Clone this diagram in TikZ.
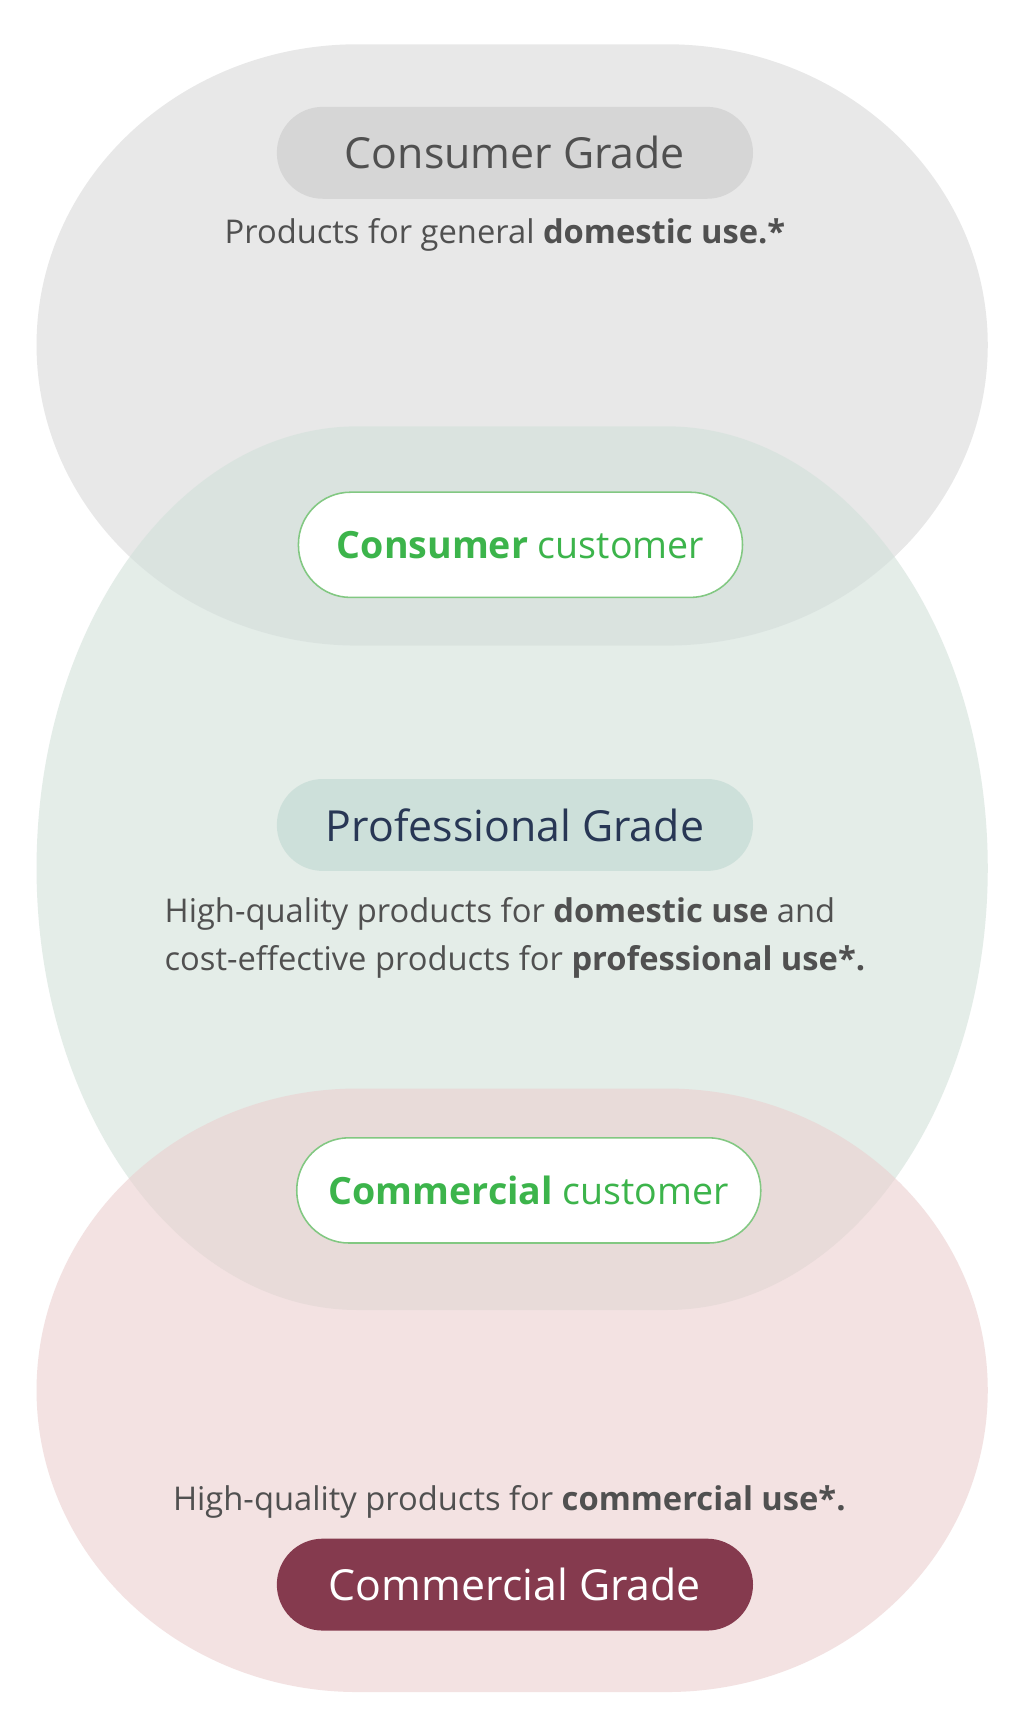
\documentclass[tikz,border=0pt]{standalone}
\usepackage{fontspec}
\setmainfont{Open Sans}
\definecolor{topc}{RGB}{232,232,232}
\definecolor{midc}{RGB}{210,225,218}
\definecolor{botc}{RGB}{235,207,207}
\definecolor{pillgray}{RGB}{214,214,214}
\definecolor{pillgreen}{RGB}{205,224,218}
\definecolor{pillred}{RGB}{133,58,78}
\definecolor{txt}{RGB}{80,80,80}
\definecolor{navy}{RGB}{40,55,85}
\definecolor{grn}{RGB}{60,180,75}
\definecolor{grnline}{RGB}{130,200,130}
\tikzset{
 pill/.style={rounded corners=0.83cm,minimum width=8.6cm,minimum height=1.66cm,font=\fontsize{22}{26}\selectfont},
 custpill/.style={draw=grnline,line width=0.8pt,fill=white,rounded corners=0.94cm,minimum height=1.9cm,text=grn,font=\fontsize{19.3}{23}\selectfont},
 desc/.style={text=txt,font=\fontsize{16.8}{25}\selectfont}
}
\begin{document}
\begin{tikzpicture}
\useasboundingbox (0,0) rectangle (18.5,-31.3);
\fill[white] (0,0) rectangle (18.5,-31.3);
\fill[topc] (6.46,-0.8) -- (12.04,-0.8) arc[start angle=90,end angle=-90,x radius=5.8cm,y radius=5.43cm] -- (6.46,-11.66) arc[start angle=270,end angle=90,x radius=5.8cm,y radius=5.43cm] -- cycle;
\fill[midc,fill opacity=0.6] (6.46,-7.7) -- (12.04,-7.7) arc[start angle=90,end angle=-90,x radius=5.8cm,y radius=7.98cm] -- (6.46,-23.66) arc[start angle=270,end angle=90,x radius=5.8cm,y radius=7.98cm] -- cycle;
\fill[botc,fill opacity=0.6] (6.46,-19.66) -- (12.04,-19.66) arc[start angle=90,end angle=-90,x radius=5.8cm,y radius=5.45cm] -- (6.46,-30.56) arc[start angle=270,end angle=90,x radius=5.8cm,y radius=5.45cm] -- cycle;
\node[pill,fill=pillgray,text=txt] (cg) at (9.3,-2.76) {Consumer Grade};
\node[desc] (cgd) at (9.12,-4.24) {Products for general \textbf{domestic use.*}};
\node[custpill,minimum width=8.02cm] (cc) at (9.4,-9.84) {\textbf{Consumer} customer};
\node[pill,fill=pillgreen,text=navy] (pg) at (9.3,-14.9) {Professional Grade};
\node[desc,align=left,anchor=north west] (pgd) at (2.85,-16.08) {High-quality products for \textbf{domestic use} and\\cost-effective products for \textbf{professional use*.}};
\node[custpill,minimum width=8.38cm] (mc) at (9.55,-21.5) {\textbf{Commercial} customer};
\node[desc] (mgd) at (9.2,-27.12) {High-quality products for \textbf{commercial use*.}};
\node[pill,fill=pillred,text=white] (mg) at (9.3,-28.62) {Commercial Grade};
\end{tikzpicture}
\end{document}
